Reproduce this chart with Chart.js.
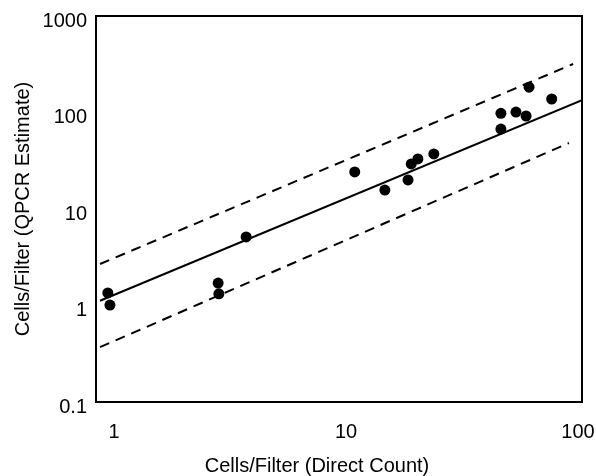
<!DOCTYPE html>
<html>
<head>
<meta charset="utf-8">
<script src="https://cdn.jsdelivr.net/npm/chart.js@4.4.1/dist/chart.umd.min.js"></script>
<style>
html,body{margin:0;padding:0;background:#fff;}
canvas{display:block;}
</style>
</head>
<body>
<canvas id="c" width="596" height="476"></canvas>
<script>
// Data
const directCount = [0.94, 0.96, 2.81, 2.83, 3.71, 10.9, 14.7, 18.5, 19.1, 20.4, 23.9, 46.5, 46.5, 54, 59.7, 61.5, 77];
const qpcrEstimate = [1.35, 1.01, 1.71, 1.32, 5.13, 24.2, 15.7, 20, 29.3, 33, 37.2, 98, 67.4, 101, 92, 183, 138];

const fitX = [0.87, 104];
const fitY = [1.12, 134];
const upperX = [0.87, 95.2];
const upperY = [2.69, 318];
const lowerX = [0.87, 91.4];
const lowerY = [0.37, 48.3];

const xTicks = [1, 10, 100];
const yTicks = [0.1, 1, 10, 100, 1000];

const xTitle = 'Cells/Filter (Direct Count)';
const yTitle = 'Cells/Filter (QPCR Estimate)';

const pts = (xs, ys) => xs.map((x, i) => ({x: x, y: ys[i]}));
const FONT = '"Liberation Sans", Arial, Helvetica, sans-serif';

const framePlugin = {
  id: 'frame',
  afterDraw(chart) {
    const {ctx, chartArea: a} = chart;
    ctx.save();
    ctx.strokeStyle = '#000';
    ctx.lineWidth = 2;
    ctx.strokeRect(a.left, a.top, a.right - a.left, a.bottom - a.top);
    ctx.fillStyle = '#000';
    ctx.font = '20px ' + FONT;
    ctx.textAlign = 'center';
    ctx.textBaseline = 'middle';
    ctx.fillText(xTitle, 317, 466);
    ctx.restore();
  }
};

new Chart(document.getElementById('c'), {
  type: 'scatter',
  data: {
    datasets: [
      {
        data: pts(fitX, fitY),
        showLine: true, borderColor: '#000', borderWidth: 2,
        pointRadius: 0, fill: false
      },
      {
        data: pts(upperX, upperY),
        showLine: true, borderColor: '#000', borderWidth: 2, borderDash: [10, 7],
        pointRadius: 0, fill: false
      },
      {
        data: pts(lowerX, lowerY),
        showLine: true, borderColor: '#000', borderWidth: 2, borderDash: [10, 7],
        pointRadius: 0, fill: false
      },
      {
        data: pts(directCount, qpcrEstimate),
        showLine: false, pointRadius: 5.5, pointBackgroundColor: '#000',
        pointBorderColor: '#000', pointBorderWidth: 0
      }
    ]
  },
  options: {
    responsive: false,
    animation: false,
    devicePixelRatio: 1,
    layout: {padding: {left: 0, top: 16, right: 14, bottom: 0}},
    plugins: {legend: {display: false}, tooltip: {enabled: false}},
    scales: {
      x: {
        type: 'logarithmic',
        min: 0.836, max: 104,
        grid: {display: false, drawTicks: false},
        border: {display: false},
        ticks: {
          color: '#000', font: {family: FONT, size: 20}, padding: 18,
          maxRotation: 0, autoSkip: false,
          callback: v => String(v)
        },
        afterBuildTicks: s => { s.ticks = xTicks.map(v => ({value: v})); },
        afterFit: s => { s.height = 74; s.paddingLeft = 0; s.paddingRight = 0; }
      },
      y: {
        type: 'logarithmic',
        min: 0.1, max: 1000,
        grid: {display: false, drawTicks: false},
        border: {display: false},
        ticks: {
          color: '#000', font: {family: FONT, size: 20}, padding: 9,
          labelOffset: 5, autoSkip: false,
          callback: v => String(v)
        },
        title: {
          display: true, text: yTitle, color: '#000',
          font: {family: FONT, size: 20, lineHeight: 1},
          padding: {top: 13, bottom: 0}
        },
        afterBuildTicks: s => { s.ticks = yTicks.map(v => ({value: v})); },
        afterFit: s => { s.width = 96; s.paddingTop = 0; s.paddingBottom = 0; }
      }
    }
  },
  plugins: [framePlugin]
});
</script>
</body>
</html>
